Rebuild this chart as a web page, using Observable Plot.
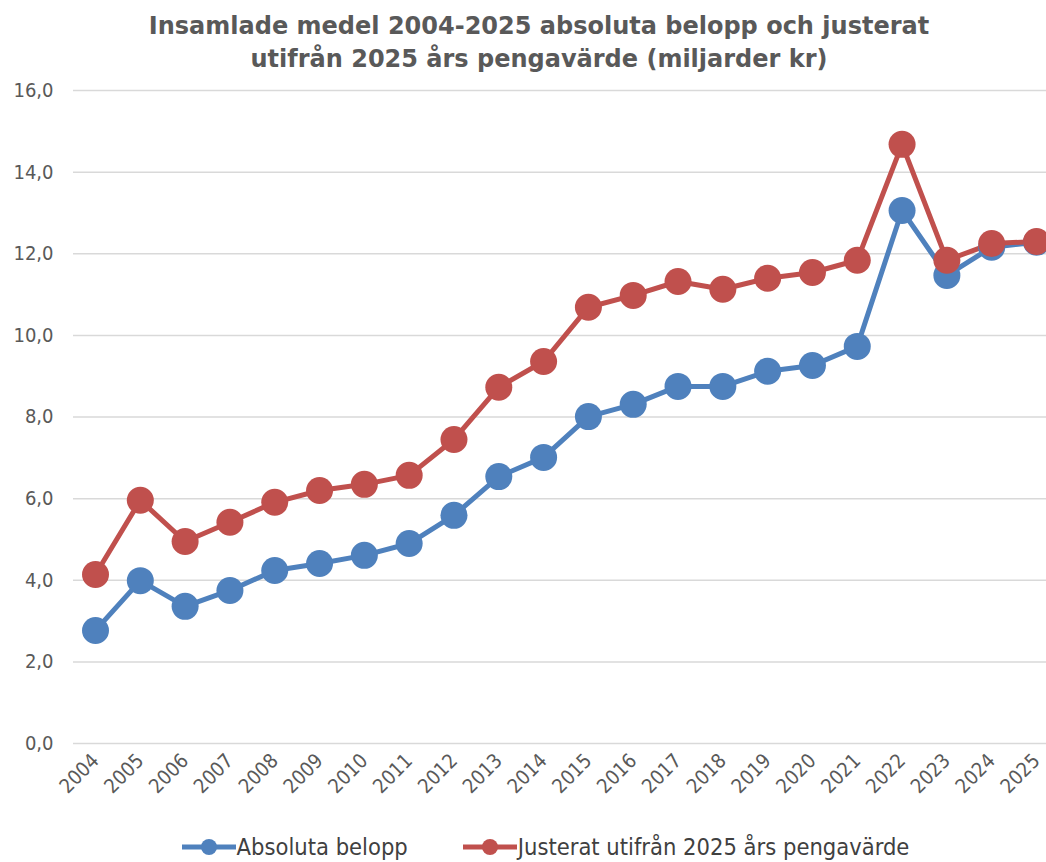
<!DOCTYPE html>
<html><head><meta charset="utf-8">
<script src="https://cdn.jsdelivr.net/npm/d3@7"></script>
<script src="https://cdn.jsdelivr.net/npm/@observablehq/plot@0.6"></script>
<style>
body{margin:0;background:#fff;width:1046px;height:862px;overflow:hidden;font-family:"DejaVu Sans Condensed","DejaVu Sans",sans-serif;}
#title{position:absolute;top:0;left:16px;width:1046px;height:75px;text-align:center;color:#595959;font-family:"DejaVu Sans",sans-serif;font-weight:bold;font-size:24px;line-height:33px;padding-top:10px;box-sizing:border-box;}
#legend{position:absolute;top:833px;left:22px;width:1046px;display:flex;justify-content:center;align-items:center;color:#404040;font-size:23.5px;}
.item{display:flex;align-items:center;margin:0 27px;}
#chart{position:absolute;top:75px;left:0;}
</style></head><body>
<div id="chart"></div>
<div id="title">Insamlade medel 2004-2025 absoluta belopp och justerat<br>utifrån 2025 års pengavärde (miljarder kr)</div>
<div id="legend"></div>
<script>
const years = [2004,2005,2006,2007,2008,2009,2010,2011,2012,2013,2014,2015,2016,2017,2018,2019,2020,2021,2022,2023,2024,2025];
const absoluta = [2.77,3.99,3.36,3.75,4.24,4.41,4.61,4.90,5.59,6.54,7.01,8.01,8.31,8.75,8.75,9.12,9.26,9.73,13.06,11.47,12.16,12.28];
const justerat = [4.14,5.96,4.95,5.42,5.91,6.20,6.35,6.57,7.45,8.73,9.36,10.69,10.98,11.32,11.13,11.40,11.54,11.84,14.68,11.84,12.25,12.30];
const seriesNames = ["Absoluta belopp","Justerat utifrån 2025 års pengavärde"];
const seriesColors = ["#4F81BD","#C0504D"];
const yTicks = [0,2,4,6,8,10,12,14,16];

const rows = [];
years.forEach((y,i)=>{
  rows.push({year:String(y), value:absoluta[i], series:seriesNames[0]});
  rows.push({year:String(y), value:justerat[i], series:seriesNames[1]});
});
const fmt = d => d.toFixed(1).replace(".",",");

const chart = Plot.plot({
  width:1046, height:750,
  marginLeft:73, marginRight:0, marginTop:15, marginBottom:82,
  style:{fontFamily:'"DejaVu Sans Condensed","DejaVu Sans",sans-serif', fontSize:"20px", color:"#595959", background:"#fff"},
  x:{type:"point", domain:years.map(String), range:[95,1036], padding:0, round:false},
  y:{domain:[0,16], ticks:yTicks},
  color:{domain:seriesNames, range:seriesColors},
  marks:[
    Plot.ruleY(yTicks,{stroke:"#D9D9D9", strokeWidth:1.5}),
    Plot.axisY({ticks:yTicks, tickFormat:fmt, tickSize:0, tickPadding:20, label:null, fontSize:20}),
    Plot.axisX({tickRotate:-45, tickSize:0, tickPadding:14, label:null, fontSize:20}),
    Plot.line(rows,{x:"year", y:"value", z:"series", stroke:"series", strokeWidth:5}),
    Plot.dot(rows,{x:"year", y:"value", fill:"series", r:13.5})
  ]
});
document.getElementById("chart").appendChild(chart);

const leg = document.getElementById("legend");
seriesNames.forEach((n,i)=>{
  const it = document.createElement("div"); it.className="item";
  it.innerHTML = `<svg width="56" height="22"><line x1="1" y1="11" x2="55" y2="11" stroke="${seriesColors[i]}" stroke-width="5"/><circle cx="28" cy="11" r="8" fill="${seriesColors[i]}"/></svg><span>${n}</span>`;
  leg.appendChild(it);
});
</script>
</body></html>
